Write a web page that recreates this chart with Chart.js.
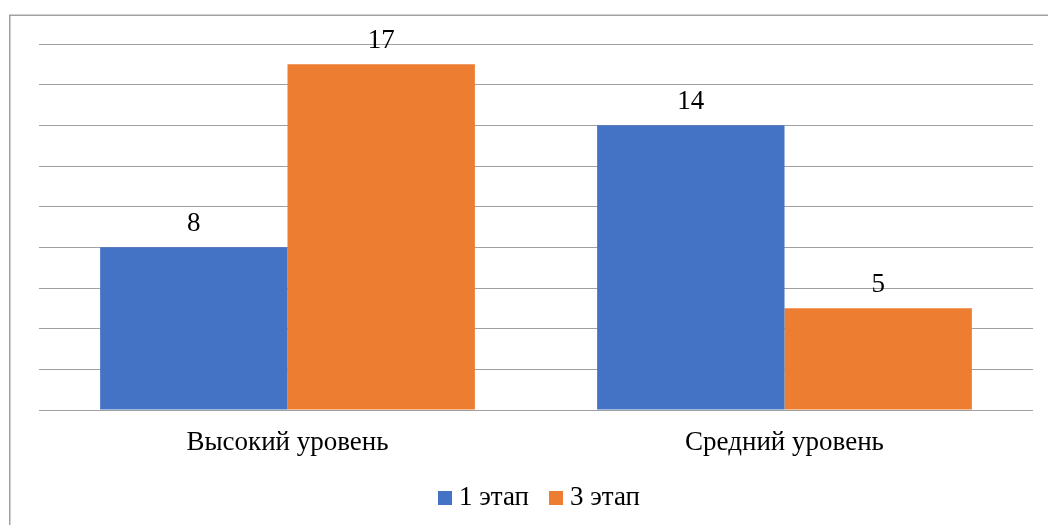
<!DOCTYPE html>
<html>
<head>
<meta charset="utf-8">
<script src="https://cdn.jsdelivr.net/npm/chart.js@4.4.1/dist/chart.umd.min.js"></script>
<style>
  html, body { margin: 0; padding: 0; background: #ffffff; }
  #wrap { width: 1048px; height: 525px; position: relative; }
</style>
</head>
<body>
<div id="wrap"><canvas id="c" width="1048" height="525"></canvas></div>
<script>
const categories = ['Высокий уровень', 'Средний уровень'];
const seriesNames = ['1 этап', '3 этап'];
const stage1 = [8, 14];
const stage3 = [17, 5];
const seriesColors = ['#4472C4', '#ED7D31'];
const yMax = 18;
const yStep = 2;

const FONT = "'Liberation Serif', 'Times New Roman', serif";
const FONT_SIZE = 27;

// thin frame along the top and left edges of the drawing
const framePlugin = {
  id: 'frame',
  beforeDraw(chart) {
    const ctx = chart.ctx;
    ctx.save();
    ctx.strokeStyle = '#a0a0a0';
    ctx.lineWidth = 1.5;
    ctx.beginPath();
    ctx.moveTo(9.75, chart.height);
    ctx.lineTo(9.75, 15.25);
    ctx.lineTo(chart.width, 15.25);
    ctx.stroke();
    ctx.restore();
  }
};

// value printed above every bar
const valueLabels = {
  id: 'valueLabels',
  afterDatasetsDraw(chart) {
    const ctx = chart.ctx;
    ctx.save();
    ctx.font = FONT_SIZE + 'px ' + FONT;
    ctx.fillStyle = '#000000';
    ctx.textAlign = 'center';
    ctx.textBaseline = 'alphabetic';
    chart.data.datasets.forEach((ds, i) => {
      chart.getDatasetMeta(i).data.forEach((bar, j) => {
        ctx.fillText(String(ds.data[j]), bar.x, bar.y - 16);
      });
    });
    ctx.restore();
  }
};

// compact legend row under the category labels
const bottomLegend = {
  id: 'bottomLegend',
  afterDraw(chart) {
    const ctx = chart.ctx;
    const box = 14, gap = 7, itemGap = 20;
    ctx.save();
    ctx.font = FONT_SIZE + 'px ' + FONT;
    ctx.textBaseline = 'alphabetic';
    ctx.textAlign = 'left';
    const items = chart.data.datasets.map(ds => ({
      text: ds.label, color: ds.backgroundColor, w: ctx.measureText(ds.label).width
    }));
    const total = items.reduce((s, it) => s + box + gap + it.w, 0) + itemGap * (items.length - 1);
    const cx = (chart.chartArea.left + chart.chartArea.right) / 2 + 3;
    const baseline = chart.chartArea.bottom + 95;
    let x = cx - total / 2;
    items.forEach(it => {
      ctx.fillStyle = it.color;
      ctx.fillRect(Math.round(x), baseline - 14, box, box);
      ctx.fillStyle = '#000000';
      ctx.fillText(it.text, x + box + gap, baseline);
      x += box + gap + it.w + itemGap;
    });
    ctx.restore();
  }
};

new Chart(document.getElementById('c'), {
  type: 'bar',
  data: {
    labels: categories,
    datasets: [
      { label: seriesNames[0], data: stage1, backgroundColor: seriesColors[0] },
      { label: seriesNames[1], data: stage3, backgroundColor: seriesColors[1] }
    ]
  },
  options: {
    responsive: false,
    animation: false,
    devicePixelRatio: 1,
    categoryPercentage: 0.754,
    barPercentage: 1.0,
    layout: { padding: { left: 39, right: 15, top: 44, bottom: 55 } },
    plugins: {
      tooltip: { enabled: false },
      legend: { display: false }
    },
    scales: {
      x: {
        grid: { display: false, drawTicks: false },
        border: { display: false },
        ticks: {
          font: { family: FONT, size: FONT_SIZE },
          color: '#000000',
          padding: 17,
          maxRotation: 0
        },
        afterFit(scale) { scale.height = 60; }
      },
      y: {
        min: 0,
        max: yMax,
        ticks: { stepSize: yStep, display: false },
        grid: { color: '#a0a0a0', lineWidth: 1, drawTicks: false },
        border: { display: false },
        afterFit(scale) { scale.width = 0; }
      }
    }
  },
  plugins: [framePlugin, valueLabels, bottomLegend]
});
</script>
</body>
</html>
